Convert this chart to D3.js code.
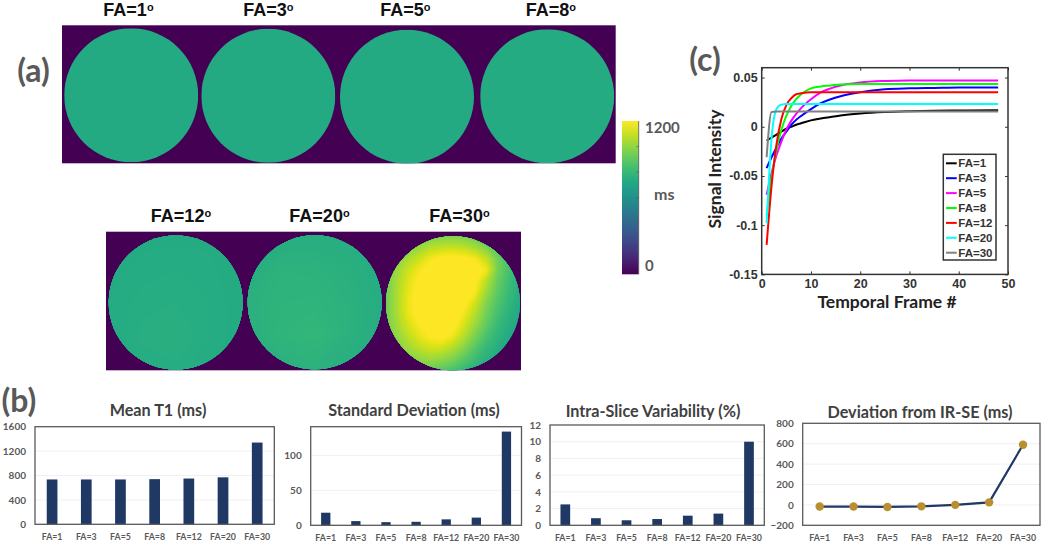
<!DOCTYPE html>
<html><head><meta charset="utf-8">
<script src="https://cdn.jsdelivr.net/npm/d3@7"></script>
<style>html,body{margin:0;padding:0;background:#fff}svg{display:block}</style>
</head><body><svg id="c" width="1050" height="549"></svg>
<script>
// ---- data ----
const faLabels = ["FA=1","FA=3","FA=5","FA=8","FA=12","FA=20","FA=30"];
const meanT1 = [735,735,735,740,750,770,1340];
const stdDev = [18,6,4.5,5,8.5,11,134];
const variability = [2.5,0.85,0.6,0.75,1.15,1.4,10];
const deviation = [-16,-16,-20,-14,0,25,590];
const meanTicks = [0,400,800,1200,1600];
const stdTicks = [0,50,100];
const varTicks = [0,2,4,6,8,10,12];
const devTicks = [-200,0,200,400,600,800];

const frames = [1,2,3,4,5,6,7,8,10,12,14,16,20,25,30,35,40,48];
const sFA1  = [-.014,-.011,-.008,-.005,-.002,0,.002,.0035,.0065,.0085,.0100,.0115,.0135,.0150,.0158,.0163,.0165,.0168];
const sFA3  = [-.042,-.031,-.021,-.012,-.005,.002,.007,.011,.018,.024,.028,.031,.035,.038,.039,.0395,.04,.04];
const sFA5  = [-.069,-.047,-.029,-.015,-.003,.006,.013,.019,.028,.035,.039,.042,.045,.0465,.047,.047,.047,.047];
const sFA8  = [-.09,-.052,-.023,-.003,.011,.021,.028,.033,.039,.041,.042,.043,.0435,.0435,.0435,.0435,.0435,.0435];
const sFA12 = [-.12,-.06,-.018,.008,.022,.029,.033,.034,.035,.035,.035,.035,.035,.035,.035,.035,.035,.035];
const sFA20 = [-.098,-.012,.018,.0225,.023,.023,.023,.023,.023,.023,.023,.023,.023,.023,.023,.023,.023,.023];
const sFA30 = [-.031,.015,.0155,.0155,.0155,.0155,.0155,.0155,.0155,.0155,.0155,.0155,.0155,.0155,.0155,.0155,.0155,.0155];
const curveColors = ["#000000","#0000ff","#ff00ff","#00ff00","#ff0000","#00ffff","#808080"];
const frameTicks = [0,10,20,30,40,50];
const signalTicks = [-.15,-.1,-.05,0,.05];
const signalTickText = ["-0.15","-0.1","-0.05","0","0.05"];

// T1 maps (ms), coarse grids across each phantom
const mapFA1 = [[728]], mapFA3 = [[730]], mapFA5 = [[730]], mapFA8 = [[732]];
const mapFA12 = [
 [735,738,738,738,735],
 [738,742,745,742,735],
 [740,748,750,745,735],
 [738,752,760,745,735],
 [735,745,748,740,735]];
const mapFA20 = [
 [740,745,750,745,735],
 [750,775,772,762,740],
 [765,780,782,770,745],
 [760,785,795,770,745],
 [745,760,770,755,740]];
const mapFA30 = [
 [950,950,950,950,960,980,980,970,930,880,850,800,780],
 [950,950,980,1030,1080,1100,1110,1090,1050,980,900,820,780],
 [950,1000,1060,1120,1190,1230,1240,1230,1190,1100,950,850,780],
 [950,1030,1120,1190,1240,1260,1260,1260,1250,1180,960,860,780],
 [950,1050,1150,1220,1260,1260,1260,1260,1230,1080,930,840,770],
 [950,1060,1170,1240,1260,1260,1260,1260,1190,1030,910,820,760],
 [950,1060,1180,1240,1260,1260,1260,1230,1120,980,880,800,740],
 [950,1060,1170,1240,1260,1260,1260,1180,1070,950,850,780,730],
 [950,1040,1130,1200,1250,1260,1240,1130,1020,910,820,760,720],
 [950,1010,1090,1160,1210,1230,1170,1070,960,860,790,740,720],
 [930,980,1040,1090,1130,1120,1070,990,890,810,760,730,720],
 [900,940,980,1010,1030,1010,970,900,830,770,740,720,720],
 [900,900,920,930,930,900,860,810,770,740,720,720,720]];

const svg = d3.select("#c");
const defs = svg.append("defs");
const CAL = "Lato, 'Open Sans', sans-serif", ARI = "'Liberation Sans', Arial, sans-serif";
const t1Color = d3.scaleSequential(d3.interpolateViridis).domain([0,1200]).clamp(true);

function txt(x,y,s,size,fill,opts={}){
  return svg.append("text").attr("x",x).attr("y",y).text(s)
    .attr("font-family",opts.font||CAL).attr("font-size",size).attr("font-weight",opts.weight||700)
    .attr("fill",fill).attr("text-anchor",opts.anchor||"middle");
}

// ---- panel (a) ----
svg.append("rect").attr("x",62).attr("y",25.3).attr("width",553.7).attr("height",138).attr("fill",t1Color(0));
svg.append("rect").attr("x",106).attr("y",231.7).attr("width",415).attr("height",138.6).attr("fill",t1Color(0));

const phantoms = [
 {name:"FA=1",  map:mapFA1,  cx:131.2,cy:95.3, lx:128.5,ly:16.4},
 {name:"FA=3",  map:mapFA3,  cx:268.3,cy:95.8, lx:268.3,ly:16.4},
 {name:"FA=5",  map:mapFA5,  cx:407,  cy:96.7, lx:405.3,ly:16.4},
 {name:"FA=8",  map:mapFA8,  cx:547.2,cy:96.3, lx:550.8,ly:16.4},
 {name:"FA=12", map:mapFA12, cx:175.7,cy:302.5,lx:181,  ly:222},
 {name:"FA=20", map:mapFA20, cx:314.7,cy:302.3,lx:319.5,ly:222},
 {name:"FA=30", map:mapFA30, cx:453,  cy:303.3,lx:459.5,ly:222}];
const R = 67;
phantoms.forEach((p,i)=>{
  const id="clip"+i;
  defs.append("clipPath").attr("id",id).append("circle").attr("cx",p.cx).attr("cy",p.cy).attr("r",R);
  const g = svg.append("g").attr("clip-path",`url(#${id})`);
  const n = p.map.length, flat = p.map.flat();
  g.append("rect").attr("x",p.cx-R).attr("y",p.cy-R).attr("width",2*R).attr("height",2*R).attr("fill",t1Color(d3.min(flat)));
  if(n>1){
    const sx=d3.scaleLinear().domain([0,n-1]).range([p.cx-R,p.cx+R]);
    const sy=d3.scaleLinear().domain([0,n-1]).range([p.cy-R,p.cy+R]);
    const path=d3.geoPath(d3.geoTransform({point(x,y){this.stream.point(sx(x-.5),sy(y-.5));}}));
    const cs=d3.contours().size([n,n]).thresholds(d3.range(700,1201,n>6?20:5))(flat);
    g.selectAll("path").data(cs).join("path").attr("d",path).attr("fill",d=>t1Color(d.value));
  }
  const t=txt(p.lx,p.ly,p.name,18,"#111",{font:ARI});
  t.append("tspan").attr("dy",-5.5).attr("font-size",11).text("o");
});

// colour bar
const barScale=d3.scaleLinear().domain([0,1200]).range([274.3,121]);
const grad=defs.append("linearGradient").attr("id","vir").attr("x1",0).attr("x2",0).attr("y1",1).attr("y2",0);
d3.range(0,1.001,.1).forEach(t=>grad.append("stop").attr("offset",t).attr("stop-color",d3.interpolateViridis(t)));
svg.append("rect").attr("x",622).attr("y",121).attr("width",16.7).attr("height",153.3).attr("fill","url(#vir)");
svg.append("line").attr("x1",638.7).attr("x2",638.7).attr("y1",121).attr("y2",274.3).attr("stroke","#555").attr("stroke-width",.8);
svg.selectAll(".cbt").data(d3.range(200,1200,200)).join("line").attr("x1",636.5).attr("x2",638.7)
  .attr("y1",d=>barScale(d)).attr("y2",d=>barScale(d)).attr("stroke","#555").attr("stroke-width",.7);
txt(645,133,"1200",15,"#595959",{anchor:"start"});
txt(654,200,"ms",16,"#595959",{anchor:"start"});
txt(645,271,"0",15,"#595959",{anchor:"start"});

// section letters
txt(33.5,82,"(a)",32,"#595959");
txt(19,412,"(b)",32,"#595959");
txt(705,71,"(c)",32,"#595959");

// ---- panel (b) ----
function small(box,domain,ticks,title,titleX,titleY){
  const x=d3.scaleBand().domain(faLabels).range([box.x0,box.x1]);
  const y=d3.scaleLinear().domain(domain).range([box.y1,box.y0]);
  const g=svg.append("g");
  g.selectAll(".grid").data(ticks.filter(t=>t!==domain[0]&&t!==domain[1])).join("line")
    .attr("x1",box.x0).attr("x2",box.x1).attr("y1",d=>y(d)).attr("y2",d=>y(d)).attr("stroke","#ececec").attr("stroke-width",.8);
  const ya=g.append("g").attr("transform",`translate(${box.x0},0)`).call(d3.axisLeft(y).tickValues(ticks).tickSize(0).tickPadding(box.pad).tickFormat(d3.format("d")));
  ya.select(".domain").remove();
  ya.selectAll("text").attr("font-family",CAL).attr("font-size",10).attr("font-weight",700).attr("fill","#595959");
  const xa=g.append("g").attr("transform",`translate(0,${box.y1})`).call(d3.axisBottom(x).tickSize(0).tickPadding(9));
  xa.select(".domain").remove();
  xa.selectAll("text").attr("font-family",CAL).attr("font-size",8.8).attr("font-weight",700).attr("fill","#595959");
  txt(titleX,titleY,title,16.2,"#404040");
  return {g,x,y,frame(){g.append("rect").attr("x",box.x0).attr("y",box.y0).attr("width",box.x1-box.x0).attr("height",box.y1-box.y0)
    .attr("fill","none").attr("stroke","#595959").attr("stroke-width",1.3);}};
}
function bars(c,vals,w){
  c.g.selectAll(".bar").data(vals).join("rect").attr("x",(d,i)=>c.x(faLabels[i])+c.x.bandwidth()/2-w/2)
   .attr("width",w).attr("y",d=>c.y(d)).attr("height",d=>c.y.range()[0]-c.y(d)).attr("fill","#1f3864");
}
const c1=small({x0:35,x1:274.3,y0:426.7,y1:524.3,pad:9},[0,1600],meanTicks,"Mean T1 (ms)",158,416);
bars(c1,meanT1,10.7); c1.frame();
const c2=small({x0:310.7,x1:521.5,y0:426.7,y1:525.3,pad:9},[0,141],stdTicks,"Standard Deviation (ms)",414,416);
bars(c2,stdDev,9.3); c2.frame();
const c3=small({x0:550,x1:764.3,y0:425,y1:525.3,pad:9},[0,12],varTicks,"Intra-Slice Variability (%)",653,417);
bars(c3,variability,9.7); c3.frame();
const c4=small({x0:802.7,x1:1040,y0:423.3,y1:525.3,pad:9},[-200,800],devTicks,"Deviation from IR-SE (ms)",920,418);
const c4pts=deviation.map((d,i)=>[c4.x(faLabels[i])+c4.x.bandwidth()/2,c4.y(d)]);
c4.g.append("path").attr("d",d3.line()(c4pts)).attr("fill","none").attr("stroke","#1f3864").attr("stroke-width",2.2);
c4.g.selectAll("circle").data(c4pts).join("circle").attr("cx",d=>d[0]).attr("cy",d=>d[1]).attr("r",4.2).attr("fill","#b8902f");
c4.frame();

// ---- panel (c) ----
const px=d3.scaleLinear().domain([0,50]).range([761.7,1008]);
const py=d3.scaleLinear().domain([-.15,.06]).range([274.4,67.7]);
const series=[sFA1,sFA3,sFA5,sFA8,sFA12,sFA20,sFA30];
const line=d3.line().x((d,i)=>px(frames[i])).y(d=>py(d)).curve(d3.curveMonotoneX);
svg.append("g").selectAll("path").data(series).join("path").attr("d",line).attr("fill","none")
  .attr("stroke",(d,i)=>curveColors[i]).attr("stroke-width",2);
const styleAxis=g=>{g.select(".domain").remove();
  g.selectAll("line").attr("stroke","#333").attr("stroke-width",1);
  g.selectAll("text").attr("font-family",ARI).attr("font-size",12.5).attr("font-weight",700).attr("fill","#333");};
svg.append("g").attr("transform","translate(0,274.4)").call(d3.axisBottom(px).tickValues(frameTicks).tickSize(-3).tickPadding(5)).call(styleAxis);
svg.append("g").attr("transform","translate(0,67.7)").call(d3.axisTop(px).tickValues(frameTicks).tickSize(-3).tickFormat("")).call(styleAxis);
svg.append("g").attr("transform","translate(761.7,0)").call(d3.axisLeft(py).tickValues(signalTicks).tickSize(-3).tickPadding(4)
  .tickFormat((d,i)=>signalTickText[i])).call(styleAxis);
svg.append("g").attr("transform","translate(1008,0)").call(d3.axisRight(py).tickValues(signalTicks).tickSize(-3).tickFormat("")).call(styleAxis);
svg.append("rect").attr("x",761.7).attr("y",67.7).attr("width",246.3).attr("height",206.7).attr("fill","none").attr("stroke","#333").attr("stroke-width",1.5);
txt(887,308,"Temporal Frame #",17.5,"#222");
txt(0,0,"Signal Intensity",17.5,"#222").attr("transform","translate(721,169) rotate(-90)");

// legend
svg.append("rect").attr("x",943.3).attr("y",154.3).attr("width",52.7).attr("height",105.7).attr("fill","#fff").attr("stroke","#333").attr("stroke-width",1.5);
const legY=d3.scalePoint().domain(faLabels).range([163.3,252.7]);
const lg=svg.append("g").selectAll("g").data(faLabels).join("g").attr("transform",d=>`translate(0,${legY(d)})`);
lg.append("line").attr("x1",946).attr("x2",956.7).attr("stroke",(d,i)=>curveColors[i]).attr("stroke-width",2);
lg.append("text").attr("x",958.3).attr("dy","0.35em").text(d=>d).attr("font-family",ARI).attr("font-size",11.5).attr("font-weight",700).attr("fill","#333");
</script></body></html>
